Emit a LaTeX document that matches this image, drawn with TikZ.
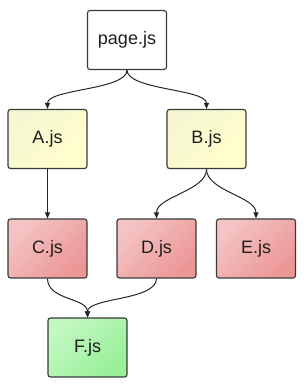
\documentclass[tikz,border=0pt]{standalone}
\usepackage{fontspec}
\setmainfont{Liberation Sans}
\usetikzlibrary{arrows.meta}
\definecolor{ylA}{HTML}{F6F6D2}
\definecolor{ylB}{HTML}{FFFFCC}
\definecolor{rdA}{HTML}{F4C4C4}
\definecolor{rdB}{HTML}{EC9696}
\definecolor{grA}{HTML}{C2F8C2}
\definecolor{grB}{HTML}{98F098}
\definecolor{edge}{HTML}{3A3A3A}
\definecolor{txt}{HTML}{1E1E1E}
\tikzset{
  filebox/.style={draw=edge, line width=1.1pt, rounded corners=2.5pt,
    minimum width=79pt, minimum height=59pt, inner sep=0pt,
    font=\fontsize{18}{20}\selectfont, text=txt},
  whitebox/.style={filebox, fill=white},
  yellowbox/.style={filebox, top color=ylA, bottom color=ylB, shading angle=45},
  redbox/.style={filebox, top color=rdA, bottom color=rdB, shading angle=45},
  greenbox/.style={filebox, top color=grA, bottom color=grB, shading angle=45},
  dep/.style={draw=black!85, line width=1pt, -{Triangle[length=6pt,width=5pt]}}
}
\begin{document}
\begin{tikzpicture}[x=1pt,y=1pt]
\useasboundingbox (0,0) rectangle (304,388);
\node[whitebox]  (page) at (127,348) {page.js};
\node[yellowbox] (A) at (47.5,249) {A.js};
\node[yellowbox] (B) at (206.5,249) {B.js};
\node[redbox]    (C) at (47.5,139.5) {C.js};
\node[redbox]    (D) at (156.5,139.5) {D.js};
\node[redbox]    (E) at (256,139.5) {E.js};
\node[greenbox]  (F) at (87.5,40.5) {F.js};
\draw[dep] (page.south) .. controls +(0,-20) and +(0,20) .. (A.north);
\draw[dep] (page.south) .. controls +(0,-20) and +(0,20) .. (B.north);
\draw[dep] (A.south) -- (C.north);
\draw[dep] (B.south) .. controls +(0,-22) and +(0,22) .. (D.north);
\draw[dep] (B.south) .. controls +(0,-22) and +(0,22) .. (E.north);
\draw[dep] (C.south) .. controls +(0,-22) and +(0,20) .. (F.north);
\draw[dep] (D.south) .. controls +(0,-22) and +(0,20) .. (F.north);
\end{tikzpicture}
\end{document}
